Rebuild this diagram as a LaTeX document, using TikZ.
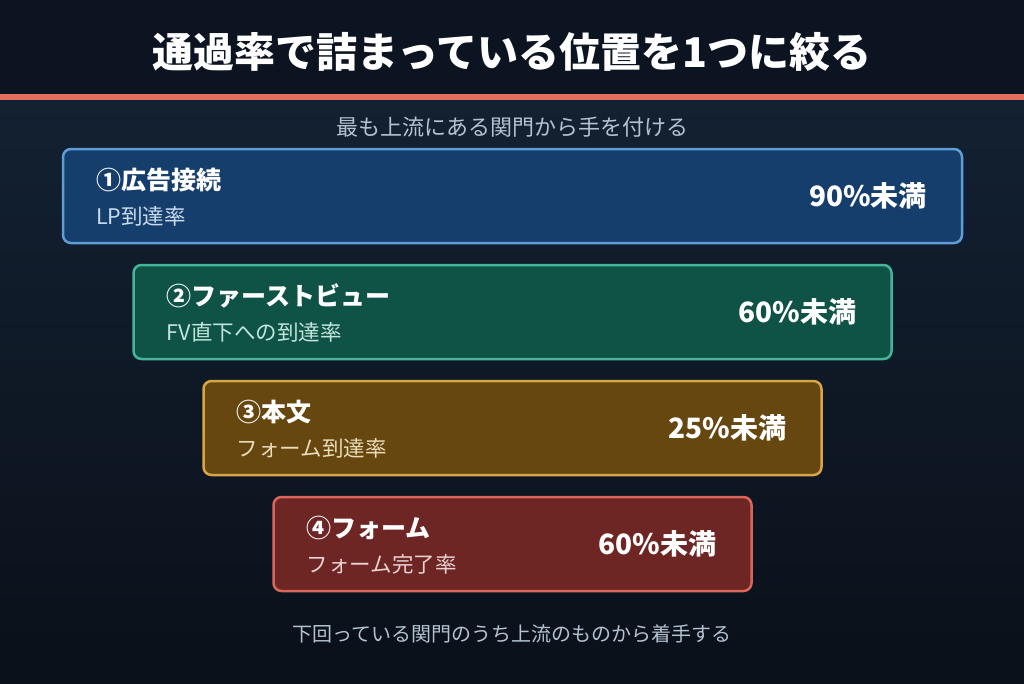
\documentclass[tikz,border=0pt]{standalone}
\usepackage{fontspec}
\setmainfont{Noto Sans CJK JP}
\usepackage{tikz}
\usetikzlibrary{positioning}

\definecolor{hdbg}{HTML}{0B1420}
\definecolor{bgtop}{HTML}{132132}
\definecolor{bgbot}{HTML}{0A1019}
\definecolor{redline}{HTML}{E07060}
\definecolor{note}{HTML}{B4C2D2}
\definecolor{fillA}{HTML}{163E6C}
\definecolor{lineA}{HTML}{5E9ED8}
\definecolor{subA}{HTML}{C9DCF0}
\definecolor{fillB}{HTML}{0F5347}
\definecolor{lineB}{HTML}{45B497}
\definecolor{subB}{HTML}{C2E5DC}
\definecolor{fillC}{HTML}{65470F}
\definecolor{lineC}{HTML}{D7A446}
\definecolor{subC}{HTML}{EADBB9}
\definecolor{fillD}{HTML}{6D2623}
\definecolor{lineD}{HTML}{D9665C}
\definecolor{subD}{HTML}{E8D2D2}

\tikzset{
  gate/.style={draw, line width=2.5pt, rounded corners=8pt, minimum height=94pt,
    inner sep=0pt, outer sep=0pt},
  gtitle/.style={anchor=west, inner sep=0pt, text=white,
    font=\fontsize{25}{28}\selectfont\bfseries},
  gsub/.style={anchor=west, inner sep=0pt,
    font=\fontsize{21.5}{24}\selectfont},
  gval/.style={anchor=east, inner sep=0pt, text=white,
    font=\fontsize{28}{31}\selectfont\bfseries},
  note/.style={inner sep=0pt, text=note}
}

\begin{document}
\begin{tikzpicture}[x=1pt,y=-1pt,node distance=22pt]

  % background
  \useasboundingbox (0,0) rectangle (1024,683);
  \fill[top color=bgtop, bottom color=bgbot] (0,97) rectangle (1024,683);
  \fill[hdbg] (0,0) rectangle (1024,97);
  \fill[redline] (0,94) rectangle (1024,100);

  \node[inner sep=0pt, text=white, font=\fontsize{41}{46}\selectfont\bfseries]
    (head) at (512,52) {通過率で詰まっている位置を1つに絞る};
  \node[note, font=\fontsize{22}{25}\selectfont] (lead) at (512,127)
    {最も上流にある関門から手を付ける};

  % gates
  \node[gate, fill=fillA, draw=lineA, minimum width=899pt] (g1) at (512.5,196) {};
  \node[gate, fill=fillB, draw=lineB, minimum width=758pt] (g2) [below=of g1] {};
  \node[gate, fill=fillC, draw=lineC, minimum width=618pt] (g3) [below=of g2] {};
  \node[gate, fill=fillD, draw=lineD, minimum width=478pt] (g4) [below=of g3] {};

  \node[gtitle] (g1t) at ([xshift=33pt,yshift=16pt]g1.west) {①広告接続};
  \node[gsub, text=subA] (g1s) at ([xshift=33pt,yshift=-20pt]g1.west) {LP到達率};
  \node[gval] (g1v) at ([xshift=-35pt]g1.east) {90\%未満};

  \node[gtitle] (g2t) at ([xshift=33pt,yshift=16pt]g2.west) {②ファーストビュー};
  \node[gsub, text=subB] (g2s) at ([xshift=33pt,yshift=-20pt]g2.west) {FV直下への到達率};
  \node[gval] (g2v) at ([xshift=-35pt]g2.east) {60\%未満};

  \node[gtitle] (g3t) at ([xshift=33pt,yshift=16pt]g3.west) {③本文};
  \node[gsub, text=subC] (g3s) at ([xshift=33pt,yshift=-20pt]g3.west) {フォーム到達率};
  \node[gval] (g3v) at ([xshift=-35pt]g3.east) {25\%未満};

  \node[gtitle] (g4t) at ([xshift=33pt,yshift=16pt]g4.west) {④フォーム};
  \node[gsub, text=subD] (g4s) at ([xshift=33pt,yshift=-20pt]g4.west) {フォーム完了率};
  \node[gval] (g4v) at ([xshift=-35pt]g4.east) {60\%未満};

  \node[note, font=\fontsize{20}{23}\selectfont] (foot) at (512,634)
    {下回っている関門のうち上流のものから着手する};

\end{tikzpicture}
\end{document}
